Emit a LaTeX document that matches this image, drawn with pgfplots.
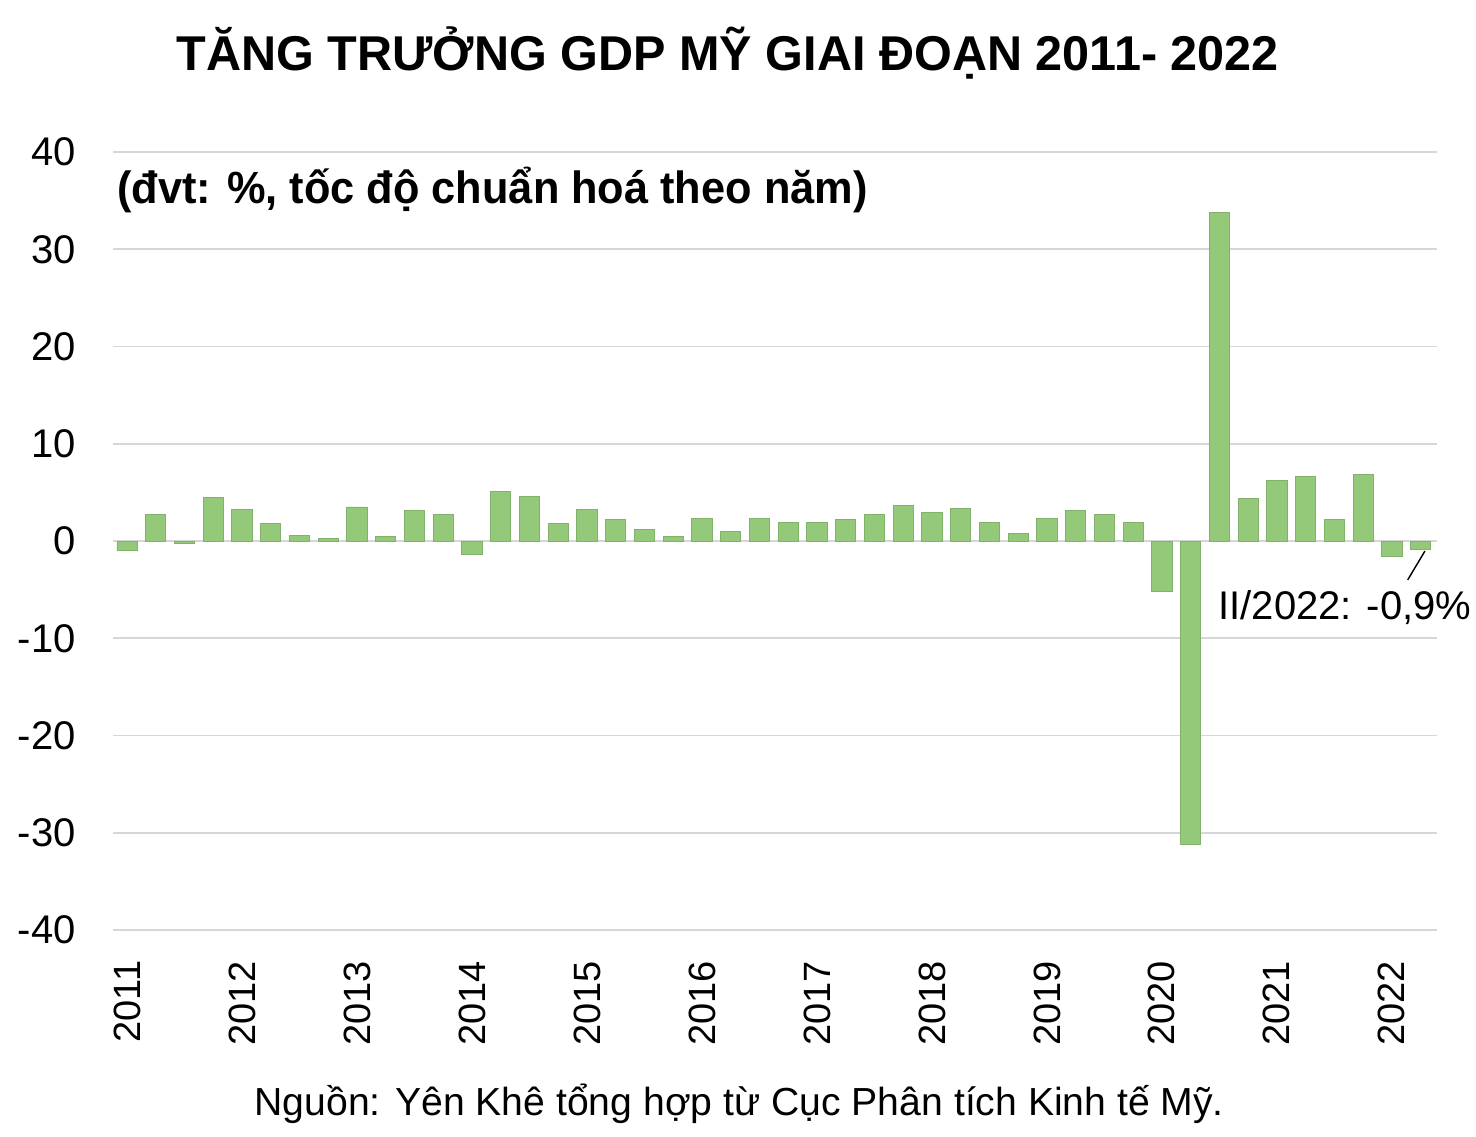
\documentclass[border=0pt]{standalone}
\usepackage{pgfplots}
\pgfplotsset{compat=1.18}
\usepackage{fontspec}
\setmainfont{Liberation Sans}

\definecolor{barg}{RGB}{147,201,120}
\definecolor{gridg}{RGB}{214,214,214}

% GDP growth by quarter, 2011 Q1 to 2022 Q2 (annualised %)
\pgfplotstableread{
q   v
0   -1.0
1   2.7
2   -0.2
3   4.5
4   3.2
5   1.8
6   0.6
7   0.3
8   3.5
9   0.5
10  3.1
11  2.7
12  -1.4
13  5.1
14  4.6
15  1.8
16  3.2
17  2.2
18  1.2
19  0.5
20  2.3
21  1.0
22  2.3
23  1.9
24  1.9
25  2.2
26  2.7
27  3.7
28  2.9
29  3.3
30  1.9
31  0.8
32  2.3
33  3.1
34  2.7
35  1.9
36  -5.2
37  -31.2
38  33.8
39  4.4
40  6.2
41  6.6
42  2.2
43  6.8
44  -1.6
45  -0.9
}\gdpdata

\begin{document}
\begin{tikzpicture}
\begin{axis}[
    scale only axis,
    width=463.4pt,
    height=272.3pt,
    xmin=-0.487, xmax=45.57,
    ymin=-40, ymax=40,
    axis line style={draw=none},
    major tick length=0pt,
    ytick={-40,-30,-20,-10,0,10,20,30,40},
    yticklabels={-40,-30,-20,-10,0,10,20,30,40},
    xtick={0,4,...,44},
    xticklabels={2011,2012,2013,2014,2015,2016,2017,2018,2019,2020,2021,2022},
    ymajorgrids,
    grid style={gridg, line width=0.55pt},
    yticklabel style={font=\fontsize{14}{16}\selectfont, inner sep=0pt, anchor=east},
    yticklabel shift=12.9pt,
    xticklabel style={font=\fontsize{13.3}{15}\selectfont, inner sep=0pt, rotate=90, anchor=east},
    xticklabel shift=10.6pt,
    clip=false,
]
\addplot[ybar, bar width=0.7, fill=barg, draw=barg!88!black, line width=0.3pt]
    table[x=q, y=v] {\gdpdata};

\node[font=\bfseries\fontsize{17.1}{20}\selectfont] at (axis cs:20.9,50.15)
    {\resizebox{385.7pt}{\height}{TĂNG TRƯỞNG GDP MỸ GIAI ĐOẠN 2011- 2022}};
\node[anchor=west, inner sep=0pt, font=\bfseries\fontsize{15.8}{18}\selectfont] at (axis cs:-0.35,36.1)
    {\resizebox{262.5pt}{\height}{(đvt: \%, tốc độ chuẩn hoá theo năm)}};
\node[anchor=west, inner sep=0pt, font=\fontsize{14}{16}\selectfont] at (axis cs:37.95,-6.8)
    {II/2022: -0,9\%};
\draw[black, line width=0.5pt] (axis cs:45.15,-1.03) -- (axis cs:44.55,-4.0);
\node[font=\fontsize{13.7}{16}\selectfont] at (axis cs:21.3,-57.9)
    {Nguồn: Yên Khê tổng hợp từ Cục Phân tích Kinh tế Mỹ.};
\coordinate (O) at (rel axis cs:0,0);
\end{axis}
\useasboundingbox ([shift={(-39.55pt,-72.45pt)}]O) rectangle ([shift={(477.05pt,325.5pt)}]O);
\end{tikzpicture}
\end{document}
